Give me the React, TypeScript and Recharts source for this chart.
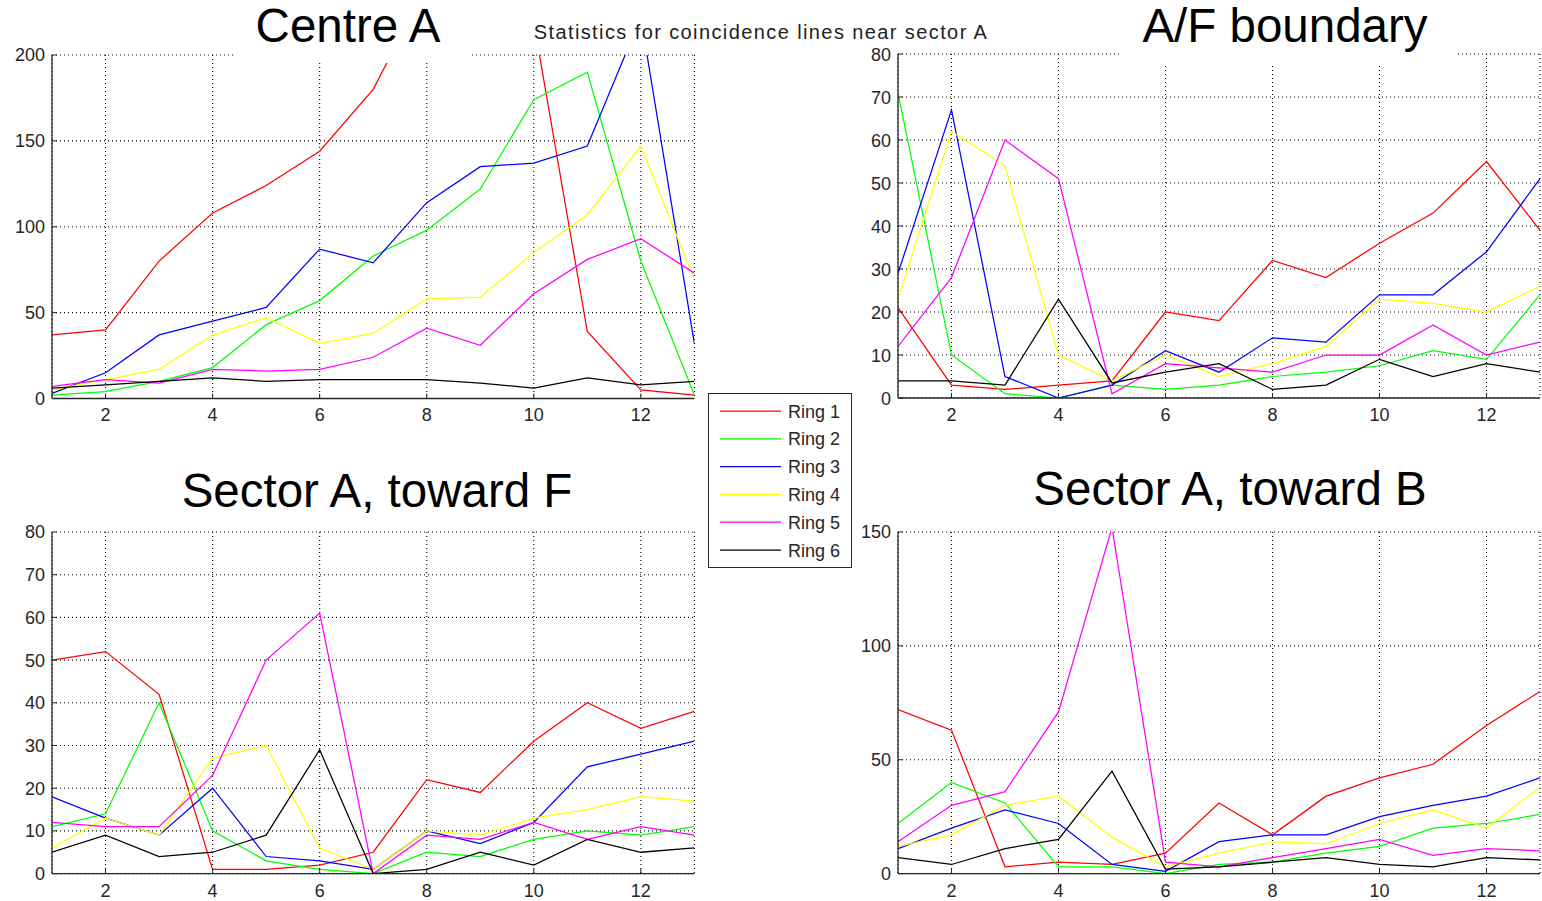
import React from 'react';
import { LineChart, Line, XAxis, YAxis, CartesianGrid } from 'recharts';

const xValues = [1, 2, 3, 4, 5, 6, 7, 8, 9, 10, 11, 12, 13];
const xTicks = [2, 4, 6, 8, 10, 12];
const ringNames = ['Ring 1', 'Ring 2', 'Ring 3', 'Ring 4', 'Ring 5', 'Ring 6'];
const ringColors = ['#ff0000', '#00ff00', '#0000ff', '#ffff00', '#ff00ff', '#000000'];

const mainTitle = 'Statistics for coincidence lines near sector A';
const panelTitles = ['Centre A', 'A/F boundary', 'Sector A, toward F', 'Sector A, toward B'];

// Centre A
const centreTicks = [0, 50, 100, 150, 200];
const centreR1 = [37, 40, 80, 108, 124, 144, 180, 240, 255, 219, 39, 5, 2];
const centreR2 = [2, 4, 10, 18, 43, 57, 83, 98, 122, 174, 190, 80, 2];
const centreR3 = [3, 15, 37, 45, 53, 87, 79, 114, 135, 137, 147, 222, 32];
const centreR4 = [5, 11, 17, 37, 47, 32, 38, 58, 59, 85, 107, 147, 69];
const centreR5 = [7, 11, 9, 17, 16, 17, 24, 41, 31, 61, 81, 93, 73];
const centreR6 = [6, 8, 10, 12, 10, 11, 11, 11, 9, 6, 12, 8, 10];

// A/F boundary
const afTicks = [0, 10, 20, 30, 40, 50, 60, 70, 80];
const afR1 = [21, 3, 2, 3, 4, 20, 18, 32, 28, 36, 43, 55, 39];
const afR2 = [71, 10, 1, 0, 3, 2, 3, 5, 6, 7.5, 11, 9, 24];
const afR3 = [29, 67, 5, 0, 3, 11, 6, 14, 13, 24, 24, 34, 51];
const afR4 = [23, 62, 54, 10, 4, 10, 5, 8, 12, 23, 22, 20, 26];
const afR5 = [12, 28, 60, 51, 1, 8, 7, 6, 10, 10, 17, 10, 13];
const afR6 = [4, 4, 3, 23, 3.5, 6, 8, 2, 3, 9, 5, 8, 6];

// Sector A, toward F
const towardFTicks = [0, 10, 20, 30, 40, 50, 60, 70, 80];
const towardFR1 = [50, 52, 42, 1, 1, 2, 5, 22, 19, 31, 40, 34, 38];
const towardFR2 = [11, 14, 40, 10, 3, 1, 0, 5, 4, 8, 10, 9, 11];
const towardFR3 = [18, 13, 9, 20, 4, 3, 1, 10, 7, 12, 25, 28, 31];
const towardFR4 = [6, 13, 9, 27, 30, 6, 1, 10, 9, 13, 15, 18, 17];
const towardFR5 = [12, 11, 11, 23, 50, 61, 0, 9, 8, 12, 8, 11, 9];
const towardFR6 = [5, 9, 4, 5, 9, 29, 0, 1, 5, 2, 8, 5, 6];

// Sector A, toward B
const towardBTicks = [0, 50, 100, 150];
const towardBR1 = [72, 63, 3, 5, 4, 9, 31, 17, 34, 42, 48, 65, 80];
const towardBR2 = [22, 40, 31, 3, 3, 0, 4, 5, 9, 12, 20, 22, 26];
const towardBR3 = [11, 20, 28, 22, 4, 1, 14, 17, 17, 25, 30, 34, 42];
const towardBR4 = [12, 17, 30, 34, 16, 3, 9, 14, 13, 22, 28, 20, 38];
const towardBR5 = [14, 30, 36, 71, 152, 5, 3, 7, 11, 15, 8, 11, 10];
const towardBR6 = [7, 4, 11, 15, 45, 2, 3, 5, 7, 4, 3, 7, 6];

const FONT = '"Liberation Sans", Arial, Helvetica, sans-serif';
const AXIS_COLOR = '#262626';

const XTick = (props: any) => {
  const { x, y, payload } = props;
  return (
    <g>
      <line x1={x} x2={x} y1={y} y2={y - 5} stroke={AXIS_COLOR} strokeWidth={1} />
      <text x={x} y={y + 23} textAnchor="middle" fontSize={18} fontFamily={FONT} fill={AXIS_COLOR}>
        {payload.value}
      </text>
    </g>
  );
};

const YTick = (props: any) => {
  const { x, y, payload } = props;
  return (
    <g>
      <line x1={x} x2={x + 5} y1={y} y2={y} stroke={AXIS_COLOR} strokeWidth={1} />
      <text x={x - 7} y={y + 6.5} textAnchor="end" fontSize={18} fontFamily={FONT} fill={AXIS_COLOR}>
        {payload.value}
      </text>
    </g>
  );
};

type PanelProps = {
  left: number;
  top: number;
  right: number;
  bottom: number;
  yMax: number;
  yTicks: number[];
  series: number[][];
};

function Panel({ left, top, right, bottom, yMax, yTicks, series }: PanelProps) {
  const padL = 60;
  const padT = 10;
  const padR = 10;
  const padB = 40;
  const width = right - left + padL + padR;
  const height = bottom - top + padT + padB;
  const data = xValues.map((x, i) => {
    const row: Record<string, number> = { x };
    series.forEach((s, k) => {
      row['r' + k] = s[i];
    });
    return row;
  });
  return (
    <div style={{ position: 'absolute', left: left - padL, top: top - padT, width, height }}>
      <LineChart width={width} height={height} data={data} margin={{ top: padT, right: padR, bottom: 0, left: 0 }}>
        <CartesianGrid stroke="#000" strokeDasharray="1 3" strokeWidth={1.1} />
        <XAxis
          dataKey="x"
          type="number"
          domain={[1, 13]}
          ticks={xTicks}
          interval={0}
          height={padB}
          tickSize={0}
          tickMargin={0}
          tick={XTick}
          stroke={AXIS_COLOR}
          strokeWidth={1.3}
          allowDataOverflow
        />
        <YAxis
          type="number"
          domain={[0, yMax]}
          ticks={yTicks}
          interval={0}
          width={padL}
          tickSize={0}
          tickMargin={0}
          tick={YTick}
          stroke={AXIS_COLOR}
          strokeWidth={1.3}
          allowDataOverflow
        />
        {series.map((_, k) => (
          <Line
            key={k}
            type="linear"
            dataKey={'r' + k}
            stroke={ringColors[k]}
            strokeWidth={1.25}
            dot={false}
            activeDot={false}
            isAnimationActive={false}
          />
        ))}
      </LineChart>
    </div>
  );
}

export default function App() {
  return (
    <div style={{ position: 'absolute', left: 0, top: 0, width: 1542, height: 901, background: '#fff', overflow: 'hidden' }}>
      <Panel
        left={52.2}
        top={54.5}
        right={694.6}
        bottom={398}
        yMax={200}
        yTicks={centreTicks}
        series={[centreR1, centreR2, centreR3, centreR4, centreR5, centreR6]}
      />
      <Panel
        left={898.2}
        top={54.3}
        right={1540.2}
        bottom={398.3}
        yMax={80}
        yTicks={afTicks}
        series={[afR1, afR2, afR3, afR4, afR5, afR6]}
      />
      <Panel
        left={52.2}
        top={531.7}
        right={694.6}
        bottom={873.3}
        yMax={80}
        yTicks={towardFTicks}
        series={[towardFR1, towardFR2, towardFR3, towardFR4, towardFR5, towardFR6]}
      />
      <Panel
        left={898.2}
        top={531.7}
        right={1540.2}
        bottom={873.3}
        yMax={150}
        yTicks={towardBTicks}
        series={[towardBR1, towardBR2, towardBR3, towardBR4, towardBR5, towardBR6]}
      />
      <svg
        width={1542}
        height={901}
        style={{ position: 'absolute', left: 0, top: 0, pointerEvents: 'none' }}
      >
        <rect x={233} y={0} width={237} height={63} fill="#fff" />
        <rect x={1120} y={0} width={335} height={63} fill="#fff" />
        <text x={348} y={42} textAnchor="middle" fontSize={47.5} fontFamily={FONT} fill="#000">
          {panelTitles[0]}
        </text>
        <text x={1285} y={42} textAnchor="middle" fontSize={47.5} fontFamily={FONT} fill="#000">
          {panelTitles[1]}
        </text>
        <text x={377} y={507} textAnchor="middle" fontSize={47.5} fontFamily={FONT} fill="#000">
          {panelTitles[2]}
        </text>
        <text x={1230} y={505} textAnchor="middle" fontSize={47.5} fontFamily={FONT} fill="#000">
          {panelTitles[3]}
        </text>
        <text x={761} y={39} textAnchor="middle" fontSize={20} letterSpacing={1.4} fontFamily={FONT} fill="#222">
          {mainTitle}
        </text>
        <rect x={708.5} y={393.5} width={143} height={174} fill="#fff" stroke={AXIS_COLOR} strokeWidth={1} />
        {ringNames.map((name, k) => {
          const cy = 411 + k * 27.8;
          return (
            <g key={name}>
              <line x1={720} x2={781} y1={cy} y2={cy} stroke={ringColors[k]} strokeWidth={1.25} />
              <text x={788} y={cy + 6.5} fontSize={18} fontFamily={FONT} fill={AXIS_COLOR}>
                {name}
              </text>
            </g>
          );
        })}
      </svg>
    </div>
  );
}
